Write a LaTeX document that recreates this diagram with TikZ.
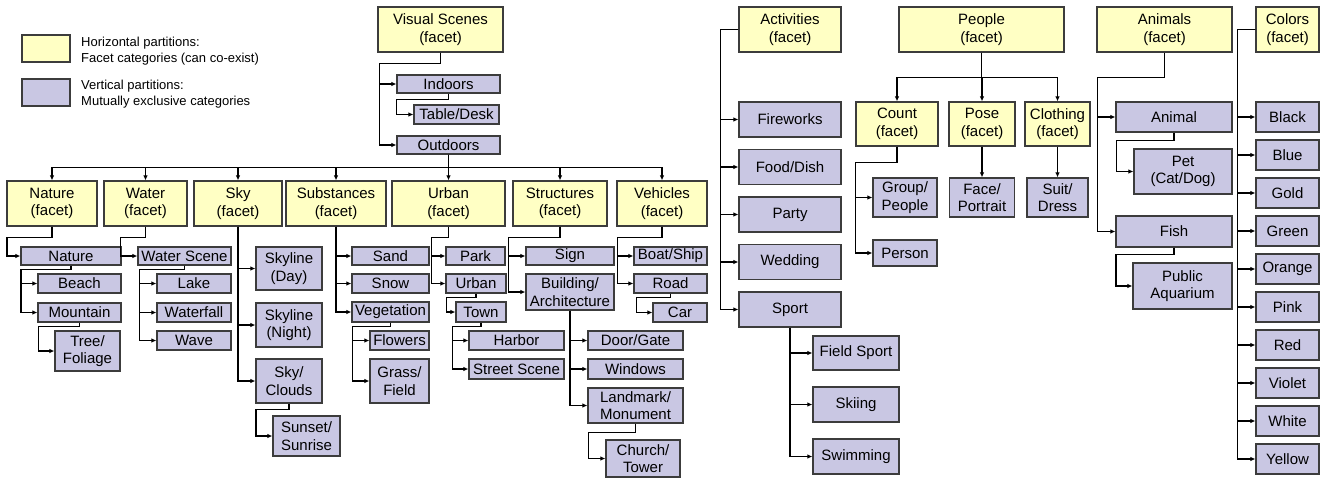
\documentclass[tikz,border=0pt]{standalone}
\usepackage{fontspec}
\setmainfont{Liberation Sans}
\usepackage{xcolor}
\usepackage{tikz}
\usetikzlibrary{
arrows.meta,
positioning,
calc
}
\definecolor{facetfill}{RGB}{255,255,196}
\definecolor{catfill}{RGB}{201,199,227}
\definecolor{boxline}{RGB}{60,60,60}

\begin{document}
\begin{tikzpicture}[
x=1pt, y=-1pt,
facet/.style={
draw=boxline,
line width=1.2pt,
fill=facetfill,
inner sep=1pt,
align=center,
font=\fontsize{15}{17.5}\selectfont
},
cat/.style={facet, fill=catfill},
conn/.style={draw, line width=1.1pt, -{Latex[length=5pt,width=4.5pt]}},
legtext/.style={anchor=west, align=left, inner sep=0pt, font=\fontsize{13}{16}\selectfont}
]
\useasboundingbox (0,0) rectangle (1321,479);

% legend
\node[facet, minimum width=48pt, minimum height=27pt] (legf) at (46,48.5) {};
\node[cat, minimum width=48pt, minimum height=27pt] (legc) at (46,92.5) {};
\node[legtext] (legftxt) at (81,51) {Horizontal partitions:\\Facet categories (can co-exist)};
\node[legtext] (legctxt) at (81,94) {Vertical partitions:\\Mutually exclusive categories};

% facets
\node[facet, minimum width=125pt, minimum height=45pt] (vis) at (440.5,29.5) {Visual Scenes\\(facet)};
\node[facet, minimum width=102pt, minimum height=45pt] (act) at (790,29.5) {Activities\\(facet)};
\node[facet, minimum width=165pt, minimum height=45pt] (ppl) at (981.5,29.5) {People\\(facet)};
\node[facet, minimum width=135pt, minimum height=45pt] (ani) at (1164.5,29.5) {Animals\\(facet)};
\node[facet, minimum width=63pt, minimum height=45pt] (col) at (1287.5,29.5) {Colors\\(facet)};
\node[facet, minimum width=90pt, minimum height=45pt] (nat) at (52,203.5) {Nature\\(facet)};
\node[facet, minimum width=83pt, minimum height=45pt] (wat) at (145.5,203.5) {Water\\(facet)};
\node[facet, minimum width=88pt, minimum height=45pt] (sky) at (238,203.5) {Sky\\(facet)};
\node[facet, minimum width=100pt, minimum height=45pt] (sub) at (336,203.5) {Substances\\(facet)};
\node[facet, minimum width=113pt, minimum height=45pt] (urb) at (448.5,203.5) {Urban\\(facet)};
\node[facet, minimum width=94pt, minimum height=45pt] (str) at (560,203.5) {Structures\\(facet)};
\node[facet, minimum width=90pt, minimum height=45pt] (veh) at (662,203.5) {Vehicles\\(facet)};
\node[facet, minimum width=82pt, minimum height=44pt] (cnt) at (897,124) {Count\\(facet)};
\node[facet, minimum width=66pt, minimum height=44pt] (pose) at (982,124) {Pose\\(facet)};
\node[facet, minimum width=65pt, minimum height=44pt] (clo) at (1057.5,124) {Clothing\\(facet)};

% visual scenes
\node[cat, minimum width=103pt, minimum height=18pt] (indoors) at (448.5,84) {Indoors};
\node[cat, minimum width=85pt, minimum height=19pt] (table) at (456.5,114.5) {Table/Desk};
\node[cat, minimum width=103pt, minimum height=18pt] (outdoors) at (448.5,145) {Outdoors};

\node[cat, minimum width=100pt, minimum height=18pt] (natc) at (71,256) {Nature};
\node[cat, minimum width=83pt, minimum height=19pt] (beach) at (79.5,283.5) {Beach};
\node[cat, minimum width=83pt, minimum height=19pt] (mount) at (79.5,312.5) {Mountain};
\node[cat, minimum width=65pt, minimum height=40pt] (tree) at (87.5,351) {Tree/\\Foliage};

\node[cat, minimum width=93pt, minimum height=18pt] (wsc) at (184.5,256) {Water Scene};
\node[cat, minimum width=74pt, minimum height=19pt] (lake) at (194,283.5) {Lake};
\node[cat, minimum width=74pt, minimum height=19pt] (wfall) at (194,312.5) {Waterfall};
\node[cat, minimum width=74pt, minimum height=19pt] (wave) at (194,340.5) {Wave};

\node[cat, minimum width=66pt, minimum height=43pt] (skyd) at (289,268.5) {Skyline\\(Day)};
\node[cat, minimum width=66pt, minimum height=44pt] (skyn) at (289,325) {Skyline\\(Night)};
\node[cat, minimum width=66pt, minimum height=44pt] (clouds) at (289,381) {Sky/\\Clouds};
\node[cat, minimum width=67pt, minimum height=40pt] (sunset) at (306.5,436) {Sunset/\\Sunrise};

\node[cat, minimum width=77pt, minimum height=18pt] (sand) at (390.5,256) {Sand};
\node[cat, minimum width=77pt, minimum height=19pt] (snow) at (390.5,283.5) {Snow};
\node[cat, minimum width=77pt, minimum height=20pt] (veg) at (390.5,312) {Vegetation};
\node[cat, minimum width=59pt, minimum height=19pt] (flow) at (399.5,340.5) {Flowers};
\node[cat, minimum width=59pt, minimum height=44pt] (grass) at (399.5,381) {Grass/\\Field};

\node[cat, minimum width=59pt, minimum height=18pt] (park) at (475.5,256) {Park};
\node[cat, minimum width=60pt, minimum height=19pt] (urbc) at (476,283.5) {Urban};
\node[cat, minimum width=50pt, minimum height=20pt] (town) at (481,312) {Town};
\node[cat, minimum width=95pt, minimum height=19pt] (harb) at (516.5,340.5) {Harbor};
\node[cat, minimum width=95pt, minimum height=20pt] (street) at (516.5,369) {Street Scene};

\node[cat, minimum width=88pt, minimum height=18pt] (sign) at (570,256) {Sign};
\node[cat, minimum width=88pt, minimum height=36pt] (bld) at (570,292) {Building/\\Architecture};
\node[cat, minimum width=95pt, minimum height=19pt] (door) at (635.5,340.5) {Door/Gate};
\node[cat, minimum width=95pt, minimum height=20pt] (win) at (635.5,369) {Windows};
\node[cat, minimum width=95pt, minimum height=35pt] (land) at (635.5,405.5) {Landmark/\\Monument};
\node[cat, minimum width=74pt, minimum height=37pt] (church) at (643,458.5) {Church/\\Tower};

\node[cat, minimum width=73pt, minimum height=18pt] (boat) at (670.5,256) {Boat/Ship};
\node[cat, minimum width=73pt, minimum height=19pt] (road) at (670.5,283.5) {Road};
\node[cat, minimum width=54pt, minimum height=19pt] (car) at (680,312.5) {Car};

% activities
\node[cat, minimum width=102pt, minimum height=35pt] (fire) at (790,119.5) {Fireworks};
\node[cat, minimum width=102pt, minimum height=35pt] (food) at (790,167) {Food/Dish};
\node[cat, minimum width=102pt, minimum height=35pt] (party) at (790,214.5) {Party};
\node[cat, minimum width=102pt, minimum height=35pt] (wed) at (790,262) {Wedding};
\node[cat, minimum width=102pt, minimum height=35pt] (sport) at (790,309.5) {Sport};
\node[cat, minimum width=86pt, minimum height=34pt] (field) at (856,353) {Field Sport};
\node[cat, minimum width=86pt, minimum height=35pt] (ski) at (856,404.5) {Skiing};
\node[cat, minimum width=86pt, minimum height=35pt] (swim) at (856,456.5) {Swimming};

% people
\node[cat, minimum width=64pt, minimum height=39pt] (group) at (905,197.5) {Group/\\People};
\node[cat, minimum width=64pt, minimum height=26pt] (person) at (905,253) {Person};
\node[cat, minimum width=65pt, minimum height=39pt] (face) at (982,197.5) {Face/\\Portrait};
\node[cat, minimum width=61pt, minimum height=39pt] (suit) at (1057.5,197.5) {Suit/\\Dress};

% animals
\node[cat, minimum width=116pt, minimum height=30pt] (animal) at (1174,117) {Animal};
\node[cat, minimum width=98pt, minimum height=45pt] (pet) at (1183,171.5) {Pet\\(Cat/Dog)};
\node[cat, minimum width=116pt, minimum height=31pt] (fish) at (1174,231.5) {Fish};
\node[cat, minimum width=99pt, minimum height=46pt] (aqua) at (1182.5,286) {Public\\Aquarium};

% colors
\foreach \c [count=\i from 0] in {Black,Blue,Gold,Green,Orange,Pink,Red,Violet,White,Yellow}
\node[cat, minimum width=63pt, minimum height=30pt] (c\c) at (1287.5,117+38*\i) {\c};

% connectors
\draw[conn] (vis.south) -- ++(0,11) -- ++(-61,0) |- (indoors.west);
\draw[conn] (vis.south) -- ++(0,11) -- ++(-61,0) |- (outdoors.west);
\draw[conn] (indoors.south) -- ++(0,6) -- ++(-52,0) |- (table.west);
\foreach \f in {nat,wat,sky,sub,urb,str,veh}
\draw[conn] (outdoors.south) -- ++(0,13) -| (\f.north);

\draw[conn] (nat.south) -- ++(0,11) -- ++(-45,0) |- (natc.west);
\foreach \k in {beach,mount}
\draw[conn] (natc.south) -- ++(0,3.5) -- ++(-50,0) |- (\k.west);
\draw[conn] (mount.south) -- ++(0,4) -- ++(-41,0) |- (tree.west);

\draw[conn] (wat.south) -- ++(0,11) -- ++(-25,0) |- (wsc.west);
\foreach \k in {lake,wfall,wave}
\draw[conn] (wsc.south) -- ++(0,3.5) -- ++(-45,0) |- (\k.west);

\foreach \k in {skyd,skyn,clouds}
\draw[conn] (sky.south) |- (\k.west);
\draw[conn] (clouds.south) -- ++(0,6) -- ++(-33,0) |- (sunset.west);

\foreach \k in {sand,snow,veg}
\draw[conn] (sub.south) |- (\k.west);
\foreach \k in {flow,grass}
\draw[conn] (veg.south) -- ++(0,4) -- ++(-38,0) |- (\k.west);

\foreach \k in {park,urbc}
\draw[conn] (urb.south) -- ++(0,11) -- ++(-17,0) |- (\k.west);
\draw[conn] (urbc.south) -- ++(0,3.5) -- ++(-29.5,0) |- (town.west);
\foreach \k in {harb,street}
\draw[conn] (town.south) -- ++(0,4) -- ++(-28.5,0) |- (\k.west);

\foreach \k in {sign,bld}
\draw[conn] (str.south) -- ++(0,11) -- ++(-51.5,0) |- (\k.west);
\foreach \k in {door,win,land}
\draw[conn] (bld.south) |- (\k.west);
\draw[conn] (land.south) -- ++(0,8.5) -- ++(-47,0) |- (church.west);

\foreach \k in {boat,road}
\draw[conn] (veh.south) -- ++(0,11) -- ++(-44.5,0) |- (\k.west);
\draw[conn] (road.south) -- ++(0,3.5) -- ++(-34,0) |- (car.west);

\foreach \k in {fire,food,party,wed,sport}
\draw[conn] (act.west) -- ++(-17.5,0) |- (\k.west);
\foreach \k in {field,ski,swim}
\draw[conn] (sport.south) |- (\k.west);

\foreach \k in {cnt,pose,clo}
\draw[conn] (ppl.south) -- ++(0,24.5) -| (\k.north);
\foreach \k in {group,person}
\draw[conn] (cnt.south) -- ++(0,16) -- ++(-41.5,0) |- (\k.west);
\draw[conn] (pose.south) -- (face.north);
\draw[conn] (clo.south) -- (suit.north);

\foreach \k in {animal,fish}
\draw[conn] (ani.south) -- ++(0,25) -- ++(-67,0) |- (\k.west);
\draw[conn] (animal.south) -- ++(0,8) -- ++(-57.5,0) |- (pet.west);
\draw[conn] (fish.south) -- ++(0,7) -- ++(-58,0) |- (aqua.west);

\foreach \c in {Black,Blue,Gold,Green,Orange,Pink,Red,Violet,White,Yellow}
\draw[conn] (col.west) -- ++(-18,0) |- (c\c.west);

\end{tikzpicture}
\end{document}
